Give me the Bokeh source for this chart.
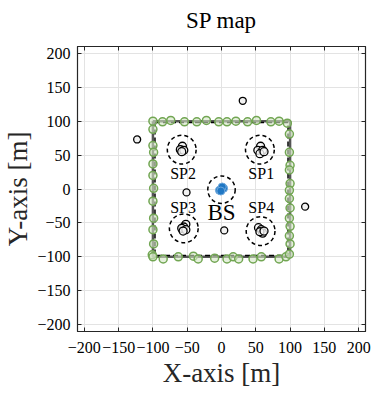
from bokeh.plotting import figure
from bokeh.models import LinearAxis, Range1d, FixedTicker, CustomLabelingPolicy
from bokeh.embed import file_html
from bokeh.resources import INLINE
from bokeh.core.properties import value

# ---- data ----
ticks = [-200, -150, -100, -50, 0, 50, 100, 150, 200]

# area boundary (square)
area_x = [-100, 100, 100, -100, -100]
area_y = [100, 100, -100, -100, 100]
area2_x = [-97, 97, 97, -97, -97]
area2_y = [98, 98, -98, -98, 98]

# green users on the border
green_x = [-100, -86, -74, -54, -36, -22, -4, 8, 21, 38, 51, 72, 84, 96,
           -101, -85, -63, -41, -34, -10, 8, 17, 25, 46, 58, 84, 94,
           -100, -100, -99, -100, -100, -99, -100, -99, -100, -99, -100,
           99, 99, 100, 99, 100, 99, 99, 100, 99, 100, 99, 100, 99]
green_y = [100, 99, 101, 99, 99, 101, 99, 99, 100, 99, 101, 99, 100, 97,
           -97, -103, -100, -99, -103, -102, -103, -100, -103, -103, -100, -103, -100,
           88, 64, 54, 37, 20, 1, -18, -43, -60, -81, -100,
           81, 54, 35, 28, 8, -2, -14, -28, -43, -55, -69, -81, -96]

# scattered users
other_x = [-123, 31, 122, -51, 4]
other_y = [73, 130, -26, -5, -61]

# users inside service points
sp_ux = [57, 53, 60, 56, 62,
         -57, -60, -55, -58,
         -52, -55, -58, -52, -56,
         54, 58, 60, 56, 62]
sp_uy = [63, 57, 57, 52, 55,
         63, 58, 57, 55,
         -52, -56, -58, -60, -62,
         -57, -60, -65, -63, -62]

# base station users
bs_x = [0, -3, 3, 1, -1]
bs_y = [0, -2, 1, 3, -3]

# service point / BS circles
circ_x = [56, -58, -55, 57, 0]
circ_y = [58, 58, -58, -62, -1]
circ_r = [21, 21, 21, 21, 20]

# labels
lab_text = ["SP1", "SP2", "SP3", "SP4"]
lab_x = [58, -56, -56, 58]
lab_y = [23, 23, -27, -27]
bs_lab = ["BS"]
bs_lab_x = [0]
bs_lab_y = [-35]

FONT = "Liberation Serif"
AX = "#262626"

p = figure(frame_width=288, frame_height=285, output_backend="svg", toolbar_location=None,
           x_range=Range1d(-210, 210), y_range=Range1d(-210, 210),
           min_border_left=69, min_border_right=0, min_border_top=46, min_border_bottom=59,
           title="SP map")
p.title.text_font = FONT
p.title.text_font_size = "23px"
p.title.text_font_style = "normal"
p.title.align = "center"
p.title.text_color = "black"
p.title.standoff = 6

p.outline_line_color = AX
p.outline_line_width = 1.2
p.background_fill_color = "white"
p.border_fill_color = "white"

p.xaxis.ticker = FixedTicker(ticks=ticks)
p.yaxis.ticker = FixedTicker(ticks=ticks)
p.axis.major_tick_in = 4
p.axis.major_tick_out = 0
p.axis.minor_tick_in = 0
p.axis.minor_tick_out = 0
p.axis.axis_line_color = AX
p.axis.major_tick_line_color = AX
p.axis.major_label_text_font = "Times New Roman"
p.axis.major_label_text_font_size = "16px"
p.axis.major_label_text_color = "black"
p.axis.axis_label_text_font = FONT
p.axis.axis_label_text_font_size = "27px"
p.axis.axis_label_text_font_style = "normal"
p.axis.axis_label_text_color = "#262626"

p.xaxis.axis_label = "X-axis [m]"
p.yaxis.axis_label = "Y-axis [m]"
p.xaxis.major_label_standoff = 10
p.xaxis.axis_label_standoff = 2
p.yaxis.major_label_standoff = 7
p.yaxis.axis_label_standoff = 1

no_labels = CustomLabelingPolicy(code="""
for (const i of indices) { indices.unset(i) }
return indices
""")
for loc in ("above", "right"):
    a = LinearAxis(ticker=FixedTicker(ticks=ticks), major_tick_in=4, major_tick_out=0,
                   minor_tick_in=0, minor_tick_out=0, axis_line_color=AX,
                   major_tick_line_color=AX, major_label_policy=no_labels,
                   major_label_standoff=0)
    p.add_layout(a, loc)

p.grid.ticker = FixedTicker(ticks=ticks)
p.grid.grid_line_color = "#e3e3e3"
p.grid.grid_line_width = 1

# area boundary
p.line(area_x, area_y, line_color="#555555", line_width=2.5)
p.line(area2_x, area2_y, line_color="black", line_width=1.5, line_dash="5 3")

# green border users
p.scatter(green_x, green_y, size=8, marker="circle", line_color="#72a653",
          fill_color="#d3e6c5", fill_alpha=0.6, line_width=1.5)

# circles around SPs and BS
p.circle(circ_x, circ_y, radius=circ_r, fill_color=None, line_color="black",
         line_width=1.5, line_dash="4 3")

# other users
p.scatter(other_x, other_y, size=7, marker="circle", line_color="black",
          fill_color="#f2f2f2", line_width=1.3)
p.scatter(sp_ux, sp_uy, size=8, marker="circle", line_color="black",
          fill_color="#f5f5f5", fill_alpha=0.8, line_width=1.3)
p.scatter(bs_x, bs_y, size=8, marker="circle", line_color="#6fa8dc",
          fill_color="#1f77c4", line_width=1.0)

p.text(lab_x, lab_y, text=lab_text, text_font=value(FONT), text_font_size="16px",
       text_align="center", text_baseline="middle", text_color="black")
p.text(bs_lab_x, bs_lab_y, text=bs_lab, text_font=value(FONT), text_font_size="23px",
       text_align="center", text_baseline="middle", text_color="black")

open("out.html", "w").write(file_html(p, INLINE))
